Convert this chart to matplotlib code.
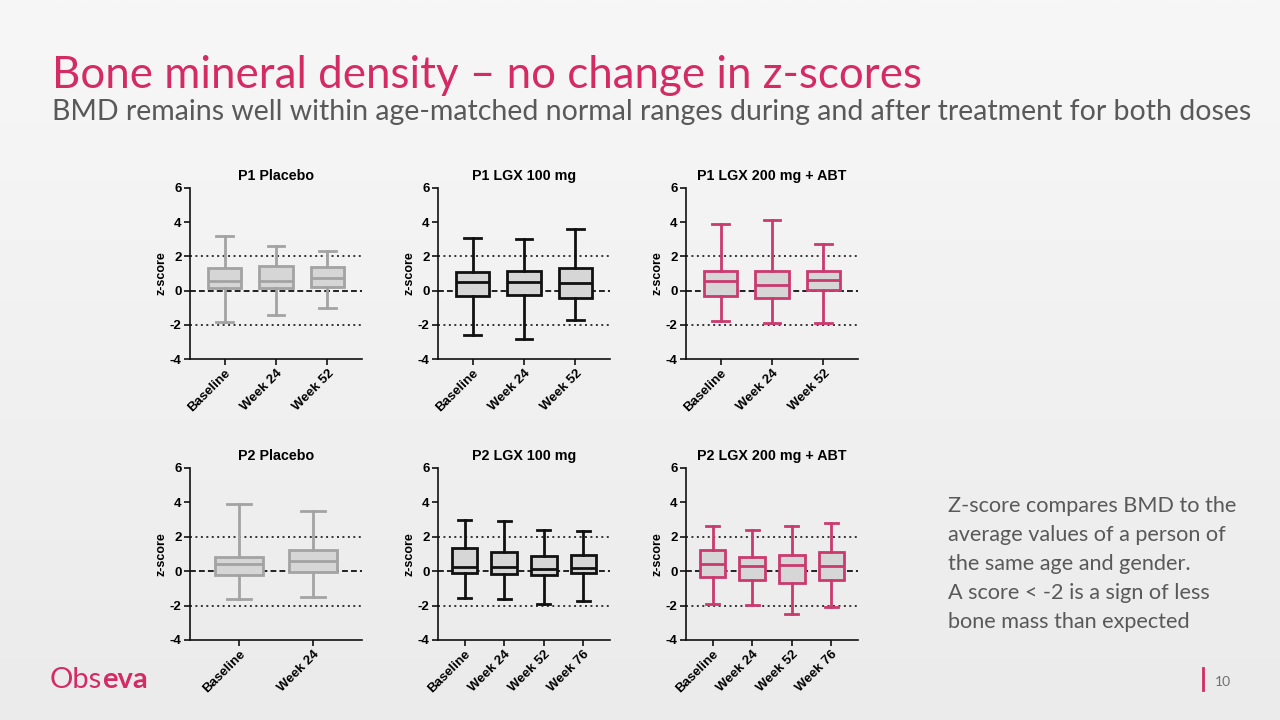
import numpy as np
import matplotlib
matplotlib.use("Agg")
import matplotlib.pyplot as plt
from matplotlib.colors import LinearSegmentedColormap

# ---------------- data ----------------
labels_2 = ["Baseline", "Week 24"]
labels_3 = ["Baseline", "Week 24", "Week 52"]
labels_4 = ["Baseline", "Week 24", "Week 52", "Week 76"]

p1_placebo_lo = [-1.82, -1.41, -1.00]
p1_placebo_q1 = [0.14, 0.14, 0.22]
p1_placebo_med = [0.58, 0.58, 0.72]
p1_placebo_q3 = [1.35, 1.45, 1.39]
p1_placebo_hi = [3.20, 2.59, 2.29]

p1_lgx100_lo = [-2.62, -2.82, -1.72]
p1_lgx100_q1 = [-0.31, -0.27, -0.45]
p1_lgx100_med = [0.51, 0.51, 0.45]
p1_lgx100_q3 = [1.08, 1.14, 1.31]
p1_lgx100_hi = [3.08, 3.02, 3.61]

p1_lgx200_lo = [-1.80, -1.92, -1.92]
p1_lgx200_q1 = [-0.34, -0.44, 0.02]
p1_lgx200_med = [0.55, 0.30, 0.61]
p1_lgx200_q3 = [1.13, 1.13, 1.13]
p1_lgx200_hi = [3.88, 4.12, 2.71]

p2_placebo_lo = [-1.59, -1.50]
p2_placebo_q1 = [-0.23, -0.06]
p2_placebo_med = [0.43, 0.60]
p2_placebo_q3 = [0.83, 1.26]
p2_placebo_hi = [3.92, 3.51]

p2_lgx100_lo = [-1.53, -1.59, -1.88, -1.72]
p2_lgx100_q1 = [-0.10, -0.14, -0.24, -0.08]
p2_lgx100_med = [0.27, 0.22, 0.12, 0.18]
p2_lgx100_q3 = [1.35, 1.10, 0.86, 0.92]
p2_lgx100_hi = [3.00, 2.92, 2.39, 2.35]

p2_lgx200_lo = [-1.92, -1.96, -2.49, -2.08]
p2_lgx200_q1 = [-0.33, -0.52, -0.70, -0.52]
p2_lgx200_med = [0.43, 0.31, 0.37, 0.29]
p2_lgx200_q3 = [1.24, 0.80, 0.93, 1.13]
p2_lgx200_hi = [2.62, 2.39, 2.62, 2.80]

panel_titles = ["P1 Placebo", "P1 LGX 100 mg", "P1 LGX 200 mg + ABT",
                "P2 Placebo", "P2 LGX 100 mg", "P2 LGX 200 mg + ABT"]

y_ticks = [-4, -2, 0, 2, 4, 6]
normal_limits = [-2, 2]

title_text = "Bone mineral density \u2013 no change in z-scores"
subtitle_text = ("BMD remains well within age-matched normal ranges during "
                 "and after treatment for both doses")
note_lines = ["Z-score compares BMD to the",
              "average values of a person of",
              "the same age and gender.",
              "A score < -2 is a sign of less",
              "bone mass than expected"]

# ---------------- style ----------------
PINK = "#d42b63"
GRAY_EDGE = "#a3a3a3"
BLACK = "#111111"
BOX_PINK = "#c93a6e"
FILL = "#d6d6d6"
TEXT_GRAY = "#595959"

W, H = 1280, 720
fig = plt.figure(figsize=(W / 100, H / 100), dpi=100)

# background gradient
bg = fig.add_axes([0, 0, 1, 1], zorder=-10)
grad = np.linspace(0, 1, 256).reshape(-1, 1)
cmap = LinearSegmentedColormap.from_list("bg", ["#f7f7f7", "#ebebeb"])
bg.imshow(grad, aspect="auto", cmap=cmap, extent=[0, 1, 0, 1])
bg.set_axis_off()


def px_rect(left, top, right, bottom):
    return [left / W, 1 - bottom / H, (right - left) / W, (bottom - top) / H]


panels = [
    (labels_3, p1_placebo_lo, p1_placebo_q1, p1_placebo_med, p1_placebo_q3, p1_placebo_hi, GRAY_EDGE),
    (labels_3, p1_lgx100_lo, p1_lgx100_q1, p1_lgx100_med, p1_lgx100_q3, p1_lgx100_hi, BLACK),
    (labels_3, p1_lgx200_lo, p1_lgx200_q1, p1_lgx200_med, p1_lgx200_q3, p1_lgx200_hi, BOX_PINK),
    (labels_2, p2_placebo_lo, p2_placebo_q1, p2_placebo_med, p2_placebo_q3, p2_placebo_hi, GRAY_EDGE),
    (labels_4, p2_lgx100_lo, p2_lgx100_q1, p2_lgx100_med, p2_lgx100_q3, p2_lgx100_hi, BLACK),
    (labels_4, p2_lgx200_lo, p2_lgx200_q1, p2_lgx200_med, p2_lgx200_q3, p2_lgx200_hi, BOX_PINK),
]

lefts = [190, 438, 686]
tops = [(188, 359), (468, 640)]
AX_W = 172

tick_font = dict(family=["Liberation Sans", "DejaVu Sans"], weight="bold")

for i, (labels, lo, q1, med, q3, hi, ec) in enumerate(panels):
    r, c = divmod(i, 3)
    top, bottom = tops[r]
    ax = fig.add_axes(px_rect(lefts[c], top, lefts[c] + AX_W, bottom))
    ax.set_facecolor("none")
    n = len(labels)
    stats = [dict(label=labels[k], whislo=lo[k], q1=q1[k], med=med[k],
                  q3=q3[k], whishi=hi[k], fliers=[]) for k in range(n)]
    lw = 2.0
    ax.bxp(stats, positions=list(range(n)), widths=0.65, patch_artist=True,
           showfliers=False,
           boxprops=dict(facecolor=FILL, edgecolor=ec, linewidth=lw),
           medianprops=dict(color=ec, linewidth=lw),
           whiskerprops=dict(color=ec, linewidth=lw),
           capprops=dict(color=ec, linewidth=lw), zorder=3)
    ax.set_xlim(-0.67, n - 1 + 0.67)
    ax.set_ylim(-4, 6)
    ax.axhline(0, color="#222222", linestyle=(0, (3.0, 1.6)), linewidth=1.4, zorder=1)
    for lim in normal_limits:
        ax.axhline(lim, color="#333333", linestyle=(0, (1.0, 1.8)), linewidth=1.4, zorder=1)
    ax.set_yticks(y_ticks)
    ax.set_yticklabels([str(t) for t in y_ticks], fontsize=9.5, **tick_font)
    ax.set_xticks(list(range(n)))
    ax.set_xticklabels(labels, rotation=45, ha="right", rotation_mode="anchor",
                       fontsize=9.5, **tick_font)
    for s in ["top", "right"]:
        ax.spines[s].set_visible(False)
    for s in ["left", "bottom"]:
        ax.spines[s].set_linewidth(1.2)
        ax.spines[s].set_color("#111111")
    ax.tick_params(axis="both", length=4, width=1.2, color="#111111", pad=2)
    ax.set_ylabel("z-score", fontsize=9, labelpad=2, **tick_font)
    ax.set_title(panel_titles[i], fontsize=10.3, pad=6, **tick_font)

# ---------------- texts ----------------
font_title = ["Lato", "DejaVu Sans"]


def fit_width(t, target_px):
    fig.canvas.draw()
    r = fig.canvas.get_renderer()
    bb = t.get_window_extent(renderer=r)
    t.set_fontsize(t.get_fontsize() * target_px / bb.width)


t1 = fig.text(52 / W, 1 - 88 / H, title_text, color=PINK, fontsize=28,
              family=font_title, va="baseline", ha="left")
fit_width(t1, 870)
t2 = fig.text(52 / W, 1 - 120 / H, subtitle_text, color=TEXT_GRAY, fontsize=17,
              family=font_title, va="baseline", ha="left")
fit_width(t2, 1196)

note_y0 = 512
for k, line in enumerate(note_lines):
    fig.text(948 / W, 1 - (note_y0 + 29 * k) / H, line, color=TEXT_GRAY,
             fontsize=15.6, family=font_title, va="baseline", ha="left")

# logo
lg1 = fig.text(50 / W, 1 - 688 / H, "Obs", color=PINK, fontsize=21,
               family=font_title, weight="normal", va="baseline", ha="left")
fig.canvas.draw()
bb = lg1.get_window_extent(renderer=fig.canvas.get_renderer())
fig.text(bb.x1 / W, 1 - 688 / H, "eva", color=PINK, fontsize=21,
         family=font_title, weight="bold", va="baseline", ha="left")

# page number
fig.add_artist(plt.Line2D([1203 / W, 1203 / W], [1 - 668 / H, 1 - 690 / H],
                          color=PINK, linewidth=2))
fig.text(1215 / W, 1 - 686 / H, "10", color="#707070", fontsize=10,
         family=font_title, va="baseline", ha="left")

fig.savefig("out.png", dpi=100)
